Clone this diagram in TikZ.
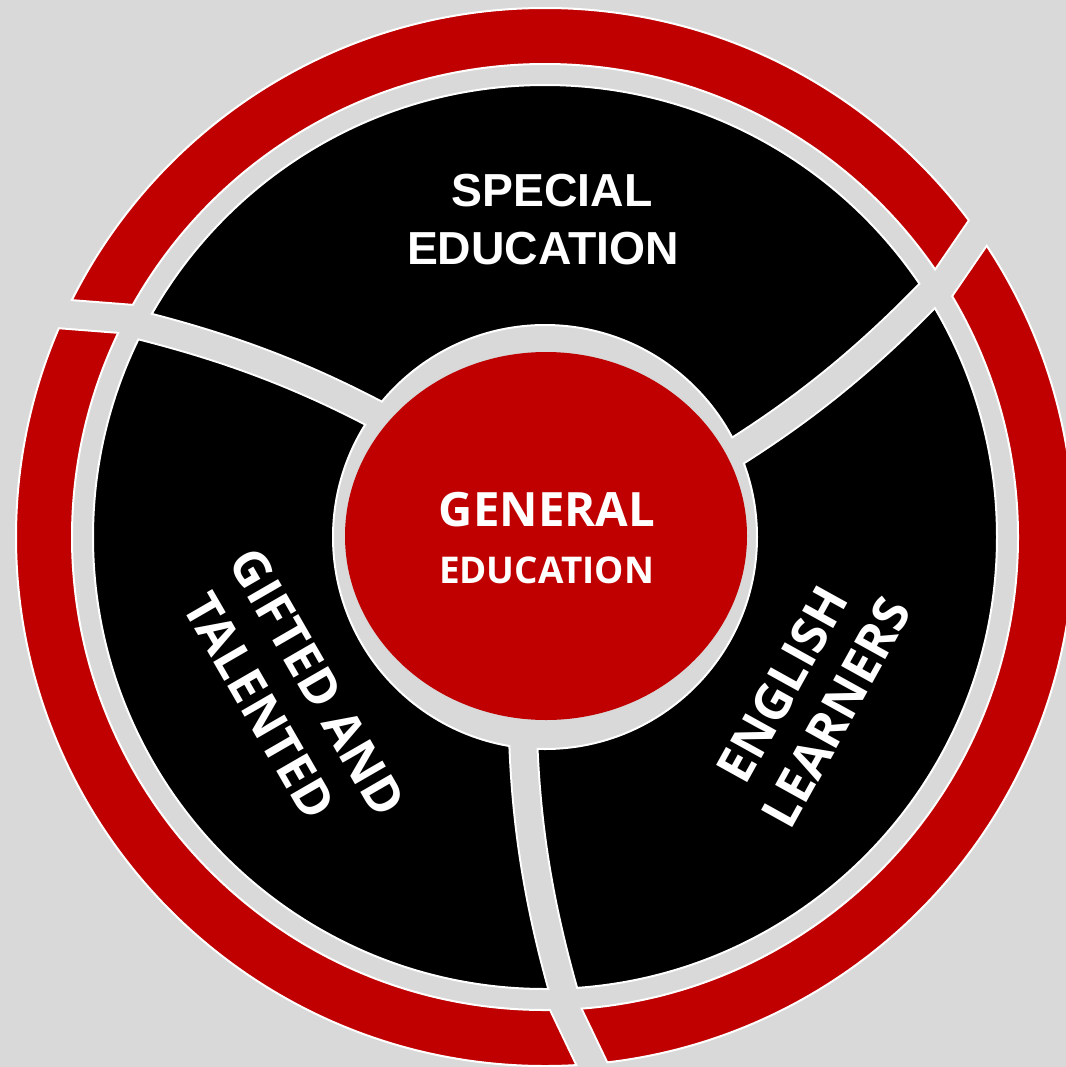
\documentclass[tikz,border=0pt]{standalone}
\usepackage{fontspec}
\newfontfamily\osb{Open Sans}
\newfontfamily\lsb{Liberation Sans}
\definecolor{bgg}{HTML}{D9D9D9}
\definecolor{rd}{HTML}{C00000}
\tikzset{
  outl/.style={draw=white, line width=2bp},
  lbl/.style={text=white, inner sep=0pt, anchor=base},
  rot/.style={lbl, font=\osb\bfseries\fontsize{50}{58}\selectfont},
}
\begin{document}
\begin{tikzpicture}[x=1bp,y=-1bp]
\useasboundingbox (0,0) rectangle (1066,1067);
\clip (0,0) rectangle (1066,1067);
\fill[bgg] (0,0) rectangle (1066,1067);
% outer red ring
\filldraw[fill=rd, outl] (545,537) circle[radius=529];
\filldraw[fill=bgg, outl] (545,537) circle[radius=473];
\begin{scope}
  \clip (1074,537) arc[start angle=0,end angle=360,radius=529] -- cycle
        (1018,537) arc[start angle=360,end angle=0,radius=473] -- cycle;
  \foreach \a in {0,120,240}
    \draw[white, line width=31bp, rotate around={\a:(545,537)}] (558,993) -- (602,1085);
\end{scope}
\begin{scope}
  \clip (1076,537) arc[start angle=0,end angle=360,radius=531] -- cycle
        (1016,537) arc[start angle=360,end angle=0,radius=471] -- cycle;
  \foreach \a in {0,120,240}
    \draw[bgg, line width=27bp, rotate around={\a:(545,537)}] (558,993) -- (602,1085);
\end{scope}
% black ring
\filldraw[fill=black, outl] (545,537) circle[radius=452];
\filldraw[fill=bgg, outl] (545,537) circle[radius=212];
\begin{scope}
  \clip (997,537) arc[start angle=0,end angle=360,radius=452] -- cycle
        (757,537) arc[start angle=360,end angle=0,radius=212] -- cycle;
  \foreach \a in {0,120,240}
    \draw[white, line width=30bp, rotate around={\a:(545,537)}]
      (523,735) .. controls (526,830) and (540,910) .. (566,1000);
\end{scope}
\begin{scope}
  \clip (1000,537) arc[start angle=0,end angle=360,radius=455] -- cycle
        (754,537) arc[start angle=360,end angle=0,radius=209] -- cycle;
  \foreach \a in {0,120,240}
    \draw[bgg, line width=26bp, rotate around={\a:(545,537)}]
      (523,735) .. controls (526,830) and (540,910) .. (566,1000);
\end{scope}
% centre
\fill[rd] (546,536) ellipse[x radius=201, y radius=184];
% texts
\node[lbl, font=\lsb\bfseries\fontsize{46.5}{56}\selectfont] (sp1) at (552,206) {SPECIAL};
\node[lbl, font=\lsb\bfseries\fontsize{46.5}{56}\selectfont] (sp2) at (543,264) {EDUCATION};
\node[lbl, font=\osb\bfseries\fontsize{47.5}{56}\selectfont] (ge1) at (547,526) {GENERAL};
\node[lbl, font=\osb\bfseries\fontsize{37}{44}\selectfont] (ge2) at (546.5,583) {EDUCATION};
\node[rot, rotate=-60] (gt1) at (302,691) {GIFTED AND};
\node[rot, rotate=-60] (gt2) at (244,715) {TALENTED};
\node[rot, rotate=61] (el1) at (798,693) {ENGLISH};
\node[rot, rotate=61] (el2) at (852,721) {LEARNERS};
\end{tikzpicture}
\end{document}
